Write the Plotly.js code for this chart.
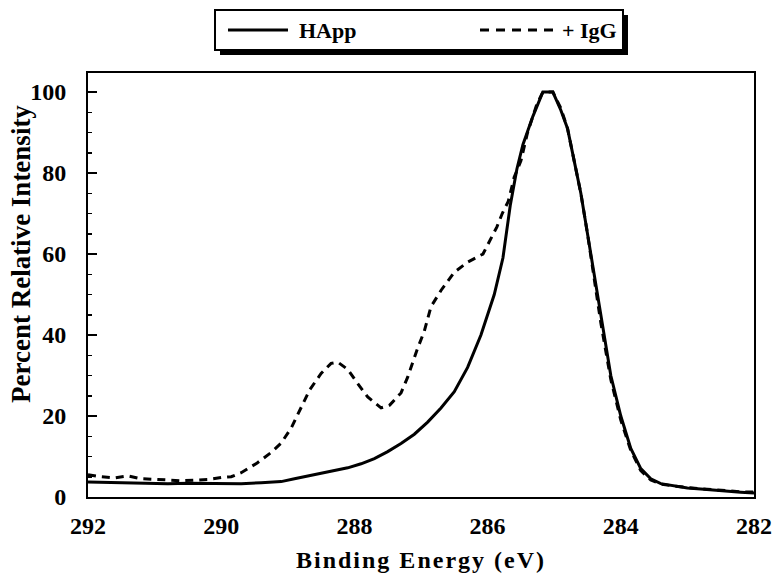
<!DOCTYPE html>
<html>
<head>
<meta charset="utf-8">
<script src="https://cdn.plot.ly/plotly-3.0.1.min.js"></script>
<style>
html,body{margin:0;padding:0;background:#fff;}
#chart{width:776px;height:573px;}
text.xtitle{letter-spacing:2px;}
</style>
</head>
<body>
<div id="chart"></div>
<script>
var happEnergy = [292, 291.7, 291.4, 291.1, 290.8, 290.5, 290.2, 290.0, 289.7, 289.4, 289.1, 288.9, 288.7, 288.5, 288.3, 288.1, 287.9, 287.7, 287.5, 287.3, 287.1, 286.9, 286.7, 286.5, 286.3, 286.1, 285.9, 285.77, 285.66, 285.56, 285.47, 285.32, 285.17, 285.02, 284.9, 284.8, 284.7, 284.6, 284.5, 284.4, 284.3, 284.15, 284.0, 283.85, 283.7, 283.55, 283.4, 283.2, 283.0, 282.8, 282.6, 282.4, 282.2, 282.0];
var happIntensity = [3.7, 3.6, 3.5, 3.4, 3.3, 3.4, 3.4, 3.3, 3.3, 3.5, 3.8, 4.5, 5.2, 5.8, 6.6, 7.2, 8.2, 9.5, 11.2, 13.2, 15.5, 18.5, 22, 26, 32, 40, 50, 59, 72, 81, 87, 94, 100, 100, 95.5, 91, 83, 75, 65, 55, 44, 30, 20, 12, 7, 4.5, 3.3, 2.7, 2.2, 2.0, 1.7, 1.5, 1.2, 1.0];

var iggEnergy = [292, 291.8, 291.6, 291.4, 291.2, 291.0, 290.8, 290.6, 290.4, 290.2, 290.0, 289.85, 289.7, 289.46, 289.25, 289.1, 288.95, 288.8, 288.67, 288.5, 288.35, 288.25, 288.1, 287.95, 287.8, 287.6, 287.47, 287.3, 287.2, 287.06, 286.95, 286.85, 286.7, 286.5, 286.3, 286.07, 285.96, 285.86, 285.78, 285.69, 285.6, 285.5, 285.4, 285.26, 285.17, 285.02, 284.9, 284.8, 284.7, 284.6, 284.5, 284.4, 284.3, 284.15, 284.0, 283.85, 283.7, 283.55, 283.4, 283.2, 283.0, 282.8, 282.6, 282.4, 282.2, 282.0];
var iggIntensity = [5.5, 5.0, 4.7, 5.2, 4.5, 4.4, 4.2, 4.0, 4.1, 4.3, 4.8, 5.0, 6.0, 8.4, 11, 13.3, 17, 22, 26.5, 30.5, 33, 33.3, 31.5, 28, 24.7, 22, 22.7, 25.7, 29.6, 36.3, 41, 47, 51, 55.5, 58, 60, 63.5, 66.7, 70, 73, 79, 83, 90, 97, 100, 100, 96, 91, 83, 75, 65, 54, 43, 29, 19, 11.5, 6.5, 4.2, 3.2, 2.7, 2.3, 2.0, 1.8, 1.5, 1.3, 1.2];

var xTicks = [292, 290, 288, 286, 284, 282];
var yTicks = [0, 20, 40, 60, 80, 100];
var seriesNames = ['HApp', '+ IgG'];
var xTitle = 'Binding Energy (eV)';
var yTitle = 'Percent Relative Intensity';

var FONT = 'Liberation Serif, Times New Roman, serif';
var SOLID = 'solid';
var DASH = '8px,6px';

var traces = [
  {x: happEnergy, y: happIntensity, name: seriesNames[0], mode: 'lines', type: 'scatter',
   line: {color: '#000', width: 3, dash: SOLID}},
  {x: iggEnergy, y: iggIntensity, name: seriesNames[1], mode: 'lines', type: 'scatter',
   line: {color: '#000', width: 3, dash: DASH}}
];

// custom boxed legend with drop shadow (paper coordinates)
var legendShapes = [
  {type: 'rect', xref: 'paper', yref: 'paper', x0: 0.1982, x1: 0.8108, y0: 1.0425, y1: 1.1368,
   fillcolor: '#000', line: {width: 0}},
  {type: 'rect', xref: 'paper', yref: 'paper', x0: 0.1907, x1: 0.8033, y0: 1.0542, y1: 1.1486,
   fillcolor: '#fff', line: {color: '#000', width: 2}},
  {type: 'line', xref: 'paper', yref: 'paper', x0: 0.2102, x1: 0.3003, y0: 1.1014, y1: 1.1014,
   line: {color: '#000', width: 3, dash: SOLID}},
  {type: 'line', xref: 'paper', yref: 'paper', x0: 0.5886, x1: 0.7012, y0: 1.1014, y1: 1.1014,
   line: {color: '#000', width: 3, dash: '9px,7px'}}
];
var textAnnotations = [
  {xref: 'paper', yref: 'paper', x: 0.3138, y: 1.1014, xanchor: 'left', yanchor: 'middle',
   text: seriesNames[0], showarrow: false, font: {family: FONT, size: 22, weight: 'bold', color: '#000'}},
  {xref: 'paper', yref: 'paper', x: 0.7087, y: 1.1014, xanchor: 'left', yanchor: 'middle',
   text: seriesNames[1], showarrow: false, font: {family: FONT, size: 22, weight: 'bold', color: '#000'}},
  {xref: 'paper', yref: 'paper', x: -0.1006, y: 0.573, xanchor: 'center', yanchor: 'middle',
   textangle: -90, text: yTitle, showarrow: false,
   font: {family: FONT, size: 27, weight: 'bold', color: '#000'}}
];

var layout = {
  width: 776, height: 573,
  margin: {l: 88, r: 22, t: 73, b: 76},
  paper_bgcolor: '#fff', plot_bgcolor: '#fff',
  font: {family: FONT, color: '#000', size: 24, weight: 'bold'},
  showlegend: false,
  shapes: legendShapes,
  annotations: textAnnotations,
  xaxis: {
    range: [292, 282], tickmode: 'array', tickvals: xTicks, ticktext: xTicks.map(String),
    showgrid: false, zeroline: false, showline: true, linecolor: '#000', linewidth: 2, mirror: true,
    ticks: '', ticklabelstandoff: 6, tickfont: {family: FONT, size: 24, weight: 'bold'},
    title: {text: xTitle, font: {family: FONT, size: 24, weight: 'bold'}, standoff: 14}
  },
  yaxis: {
    range: [0, 104.7], tickmode: 'array', tickvals: yTicks, ticktext: yTicks.map(String),
    showgrid: false, zeroline: false, showline: true, linecolor: '#000', linewidth: 2, mirror: true,
    ticks: 'inside', ticklen: 9, tickwidth: 1.5, tickcolor: '#000',
    minor: {dtick: 5, ticks: 'inside', ticklen: 4, tickwidth: 1.5, tickcolor: '#000'},
    ticklabelstandoff: 15,
    tickfont: {family: FONT, size: 24, weight: 'bold'}
  }
};

Plotly.newPlot('chart', traces, layout, {displayModeBar: false, staticPlot: true});
</script>
</body>
</html>
